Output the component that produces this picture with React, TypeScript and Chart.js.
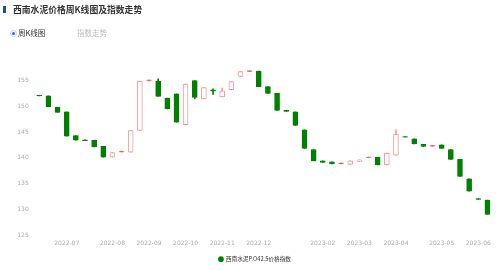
import { useEffect, useRef } from 'react';
import { Chart, registerables } from 'chart.js';

Chart.register(...registerables);

// Month of each weekly candle (tick label shown at the first week of each month)
const weekMonths = [
  '2022-06', '2022-06', '2022-06',
  '2022-07', '2022-07', '2022-07', '2022-07', '2022-07',
  '2022-08', '2022-08', '2022-08', '2022-08',
  '2022-09', '2022-09', '2022-09', '2022-09',
  '2022-10', '2022-10', '2022-10', '2022-10',
  '2022-11', '2022-11', '2022-11', '2022-11',
  '2022-12', '2022-12', '2022-12', '2022-12', '2022-12', '2022-12', '2022-12',
  '2023-02', '2023-02', '2023-02', '2023-02',
  '2023-03', '2023-03', '2023-03', '2023-03',
  '2023-04', '2023-04', '2023-04', '2023-04', '2023-04',
  '2023-05', '2023-05', '2023-05', '2023-05',
  '2023-06', '2023-06',
];

const opens = [
  152.1, 152.0, 149.8, 148.9, 144.3, 143.5, 143.4, 142.2, 140.1, 141.1,
  141.1, 145.3, 154.9, 154.9, 151.6, 152.4, 146.4, 155.0, 151.4, 153.2,
  151.8, 153.2, 155.8, 156.7, 156.8, 153.8, 152.5, 149.2, 148.9, 145.4,
  141.6, 139.4, 139.2, 138.8, 138.7, 139.3, 140.0, 140.1, 138.6, 140.5,
  144.1, 143.7, 142.6, 142.2, 142.5, 141.6, 139.7, 135.9, 132.1, 131.8,
];

const closes = [
  152.0, 149.9, 148.8, 144.2, 143.4, 143.3, 142.1, 140.1, 141.0, 141.3,
  145.3, 154.9, 155.1, 151.9, 149.5, 146.9, 154.3, 151.7, 153.6, 152.9,
  153.0, 154.8, 156.7, 156.9, 153.8, 152.5, 149.2, 149.0, 146.3, 141.8,
  139.4, 139.1, 138.8, 139.0, 139.4, 139.6, 140.2, 138.6, 140.9, 144.6,
  144.0, 142.7, 142.2, 142.4, 141.8, 139.7, 136.4, 133.5, 131.9, 129.0,
];

const highs = [
  152.1, 152.0, 149.8, 148.9, 144.3, 143.5, 143.4, 142.2, 141.0, 141.3,
  145.3, 154.9, 155.1, 155.3, 151.6, 152.4, 154.3, 155.0, 153.6, 153.4,
  153.5, 154.8, 156.7, 156.9, 156.8, 153.8, 152.5, 149.2, 148.9, 145.4,
  141.6, 139.4, 139.2, 139.0, 139.4, 139.6, 140.2, 140.1, 140.9, 145.4,
  144.1, 143.7, 142.6, 142.4, 142.5, 141.6, 139.7, 135.9, 132.1, 131.8,
];

const lows = [
  152.0, 149.9, 148.8, 144.2, 143.4, 143.3, 142.1, 140.1, 140.1, 141.1,
  141.1, 145.3, 154.9, 151.9, 149.5, 146.9, 146.4, 151.4, 151.4, 152.3,
  151.8, 153.2, 155.8, 156.7, 153.8, 152.5, 149.2, 149.0, 146.3, 141.8,
  139.4, 139.1, 138.8, 138.8, 138.7, 139.3, 140.0, 138.6, 138.6, 140.5,
  144.0, 142.7, 142.2, 142.2, 141.8, 139.7, 136.4, 133.5, 131.9, 129.0,
];

const seriesName = '西南水泥P.O42.5价格指数';
const yMin = 125;
const yMax = 158;
const yStep = 5;

const GREEN = '#008000';
const UP_BORDER = 'rgba(240, 90, 90, 0.6)';
const UP_LINE = 'rgba(235, 50, 50, 0.9)';

export default function App() {
  const ref = useRef<HTMLCanvasElement | null>(null);

  useEffect(() => {
    document.body.style.margin = '0';
    const canvas = ref.current;
    if (!canvas) return;
    const isUp = (i: number) => closes[i] > opens[i];

    const chart = new Chart(canvas, {
      type: 'bar',
      data: {
        labels: weekMonths,
        datasets: [
          {
            label: seriesName,
            data: opens.map((o, i) => [o, closes[i]]),
            backgroundColor: (ctx: any) => {
              const i = ctx.dataIndex;
              if (i === undefined) return GREEN;
              if (!isUp(i)) return GREEN;
              return Math.abs(closes[i] - opens[i]) < 0.25 ? UP_LINE : '#ffffff';
            },
            borderColor: (ctx: any) => {
              const i = ctx.dataIndex;
              if (i === undefined) return GREEN;
              return isUp(i) ? UP_BORDER : GREEN;
            },
            borderWidth: 1,
            borderSkipped: false,
            barThickness: 5,
            grouped: false,
            order: 0,
          },
          {
            label: 'wick',
            data: lows.map((l, i) => [l, highs[i]]),
            backgroundColor: (ctx: any) => {
              const i = ctx.dataIndex;
              if (i === undefined) return GREEN;
              return isUp(i) ? UP_BORDER : GREEN;
            },
            borderWidth: 0,
            barThickness: 1,
            grouped: false,
            order: 1,
          },
        ],
      },
      options: {
        responsive: false,
        animation: false,
        layout: { padding: { top: 65, right: 8, left: 18, bottom: -2 } },
        plugins: {
          tooltip: { enabled: false },
          legend: {
            position: 'bottom',
            labels: {
              usePointStyle: true,
              boxWidth: 4,
              boxHeight: 4,
              padding: 5,
              color: '#333',
              font: { size: 5.7, family: '"Noto Sans CJK SC", sans-serif' },
              generateLabels: () => [
                {
                  text: seriesName,
                  fillStyle: GREEN,
                  strokeStyle: GREEN,
                  lineWidth: 0,
                  pointStyle: 'circle',
                  datasetIndex: 0,
                  hidden: false,
                  fontColor: '#333',
                },
              ],
            },
          },
        },
        scales: {
          x: {
            type: 'category',
            offset: true,
            grid: { display: false, drawTicks: false },
            border: { display: false },
            ticks: {
              autoSkip: false,
              maxRotation: 0,
              padding: 4.5,
              color: '#aaa',
              font: { size: 6, family: '"DejaVu Sans", sans-serif' },
              callback: (_v: any, i: number) =>
                i > 0 && weekMonths[i] !== weekMonths[i - 1] ? weekMonths[i] : '',
            },
          },
          y: {
            type: 'linear',
            min: yMin,
            max: yMax,
            grid: { display: false, drawTicks: false },
            border: { display: false },
            afterBuildTicks: (scale: any) => {
              scale.ticks = scale.ticks.filter((t: any) => t.value % yStep === 0);
            },
            afterFit: (scale: any) => {
              scale.width = 16.7;
            },
            ticks: {
              stepSize: yStep,
              padding: 6,
              color: '#aaa',
              font: { size: 6, family: '"DejaVu Sans", sans-serif' },
            },
          },
        },
      },
    });
    return () => chart.destroy();
  }, []);

  return (
    <div style={{ position: 'relative', width: 500, height: 270, fontFamily: '"Noto Sans CJK SC", sans-serif', overflow: 'hidden' }}>
      <canvas ref={ref} width={500} height={270} style={{ position: 'absolute', left: 0, top: 0 }} />
      <div style={{ position: 'absolute', left: 3, top: 6, width: 2.5, height: 7, background: '#1f4e9c' }} />
      <div style={{ position: 'absolute', left: 13, top: 4, fontSize: 8.8, fontWeight: 'bold', color: '#333', lineHeight: '12px', whiteSpace: 'nowrap' }}>
        西南水泥价格周K线图及指数走势
      </div>
      <div style={{ position: 'absolute', left: 9.8, top: 29.8, width: 7, height: 7, borderRadius: '50%', border: '1.5px solid #b5d3f5', boxSizing: 'border-box', display: 'flex', alignItems: 'center', justifyContent: 'center', background: '#fff' }}>
        <div style={{ width: 3.2, height: 3.2, borderRadius: '50%', background: '#1a6fd6' }} />
      </div>
      <div style={{ position: 'absolute', left: 18, top: 28.3, fontSize: 7.5, lineHeight: '10px', color: '#333', whiteSpace: 'nowrap' }}>周K线图</div>
      <div style={{ position: 'absolute', left: 77, top: 28.3, fontSize: 7.5, lineHeight: '10px', color: '#bbb', whiteSpace: 'nowrap' }}>指数走势</div>
    </div>
  );
}
